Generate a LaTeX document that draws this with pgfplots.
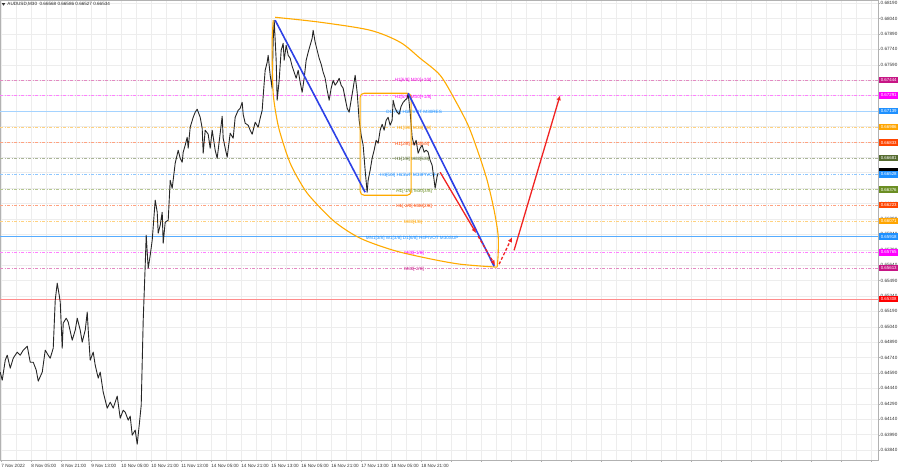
\documentclass[border=0pt]{standalone}
\usepackage{fontspec}
\setmainfont{Liberation Sans}
\usepackage{pgfplots}
\pgfplotsset{compat=1.18}
\usetikzlibrary{arrows.meta}

\definecolor{lvMvr}{RGB}{199,21,133}
\definecolor{lvMag}{RGB}{255,0,255}
\definecolor{lvBlue}{RGB}{30,144,255}
\definecolor{lvOrange}{RGB}{255,165,0}
\definecolor{lvRed}{RGB}{255,69,0}
\definecolor{lvOlive}{RGB}{85,107,47}
\definecolor{lvOlive2}{RGB}{107,142,35}
\definecolor{lvPure}{RGB}{255,0,0}
\definecolor{fanOrange}{RGB}{255,170,0}
\definecolor{trendBlue}{RGB}{45,65,230}
\definecolor{arrRed}{RGB}{240,35,35}

\tikzset{
  lvl/.style={line width=0.45pt, color=#1!50!white, dash pattern=on 3pt off 1.5pt on 1pt off 1.5pt},
  lvlsolid/.style={line width=0.6pt, color=#1},
  lbl/.style={font=\fontsize{4.6}{5}\selectfont, inner sep=0pt, anchor=center},
  pbox/.style={anchor=west, fill=#1, text=white, inner sep=0pt, minimum width=19pt,
    minimum height=6.5pt, font=\fontsize{4.4}{5}\selectfont},
}

\begin{document}
\begin{tikzpicture}[font=\fontsize{4.6}{5}\selectfont]
\begin{axis}[
  scale only axis, width=878pt, height=460pt,
  xmin=0, xmax=878, ymin=0.63742, ymax=0.68218,
  axis line style={gray!60, line width=0.5pt},
  xtick={1,31,...,871},
  xticklabels={7 Nov 2022, 8 Nov 05:00, 8 Nov 21:00, 9 Nov 13:00, 10 Nov 05:00,
    10 Nov 21:00, 11 Nov 13:00, 14 Nov 05:00, 14 Nov 21:00, 15 Nov 13:00,
    16 Nov 05:00, 16 Nov 21:00, 17 Nov 13:00, 18 Nov 05:00, 18 Nov 21:00,
    {},{},{},{},{},{},{},{},{},{},{},{},{},{},{}},
  minor x tick num=1,
  ytick={0.6384,0.6399,0.6414,0.6429,0.6444,0.6459,0.6474,0.6489,0.6504,0.6519,
    0.6534,0.6549,0.6564,0.6579,0.6594,0.6609,0.6624,0.6639,0.6654,0.6669,
    0.6684,0.6699,0.6714,0.6729,0.6744,0.6759,0.6774,0.6789,0.6804,0.6819},
  yticklabels={0.63840,0.63990,0.64140,0.64290,0.64440,0.64590,0.64740,0.64890,0.65040,0.65190,
    0.65340,0.65490,0.65640,0.65790,0.65940,0.66090,0.66240,{},{},{},
    {},{},{},{},{},0.67590,0.67740,0.67890,0.68040,0.68190},
  yticklabel pos=right,
  grid=both,
  major grid style={gray!14, line width=0.4pt},
  minor grid style={gray!14, line width=0.4pt},
  tick style={gray!60},
  major tick length=2pt, minor tick length=0pt,
  xtick pos=bottom, ytick pos=right,
  tick align=outside,
  xticklabel style={anchor=north west, inner sep=0pt, yshift=-1.5pt, text=black!80},
  yticklabel style={anchor=west, inner sep=0pt, xshift=0.5pt, text=black!80},
]

% level lines
\addplot[lvl=lvMvr] coordinates {(0,0.67444) (878,0.67444)};
\addplot[lvl=lvMag] coordinates {(0,0.67291) (878,0.67291)};
\addplot[lvlsolid=lvBlue!40] coordinates {(0,0.67139) (878,0.67139)};
\addplot[lvl=lvOrange] coordinates {(0,0.66986) (878,0.66986)};
\addplot[lvl=lvRed] coordinates {(0,0.66833) (878,0.66833)};
\addplot[lvl=lvOlive] coordinates {(0,0.66681) (878,0.66681)};
\addplot[lvl=lvBlue] coordinates {(0,0.66528) (878,0.66528)};
\addplot[lvl=lvOlive2] coordinates {(0,0.66376) (878,0.66376)};
\addplot[lvl=lvRed] coordinates {(0,0.66223) (878,0.66223)};
\addplot[lvl=lvOrange] coordinates {(0,0.66071) (878,0.66071)};
\addplot[lvlsolid=lvBlue!75] coordinates {(0,0.65918) (878,0.65918)};
\addplot[lvl=lvMag] coordinates {(0,0.65765) (878,0.65765)};
\addplot[lvl=lvMvr] coordinates {(0,0.65613) (878,0.65613)};
\addplot[lvlsolid=lvPure!45] coordinates {(0,0.65308) (878,0.65308)};

% level texts
\node[lbl, text=lvMag!80!lvMvr] at (axis cs:413,0.67444) [yshift=-1pt] {H1[6/8] M30[+2/8]};
\node[lbl, text=lvMag] at (axis cs:413,0.67291) [yshift=-1.5pt] {H1[5/8] M30[+1/8]};
\node[lbl, text=lvBlue] at (axis cs:414,0.67139) [yshift=-1.5pt] {D1[7/8] H1PIVOT M30RES};
\node[lbl, text=lvOrange] at (axis cs:414,0.66986) [yshift=-1.5pt] {H1[3/8] M30[7/8]};
\node[lbl, text=lvRed] at (axis cs:412,0.66833) [yshift=-1.5pt] {H1[2/8] M30[6/8]};
\node[lbl, text=lvOlive] at (axis cs:412,0.66681) [yshift=-1pt] {H1[1/8] M30[5/8]};
\node[lbl, text=lvBlue] at (axis cs:408,0.66528) [yshift=-1.5pt] {H4[5/8] H1SUP M30PIVOT};
\node[lbl, text=lvOlive2] at (axis cs:414,0.66376) [yshift=-1.5pt] {H1[-1/8] M30[3/8]};
\node[lbl, text=lvRed] at (axis cs:414,0.66223) [yshift=-1.5pt] {H1[-2/8] M30[2/8]};
\node[lbl, text=lvOrange] at (axis cs:413,0.66071) [yshift=-1.5pt] {M30[1/8]};
\node[lbl, text=lvBlue] at (axis cs:412,0.65918) [yshift=-2pt] {MN1[3/8] W1[3/8] D1[6/8] H4PIVOT M30SUP};
\node[lbl, text=lvMag] at (axis cs:414,0.65765) [yshift=-1.5pt] {M30[-1/8]};
\node[lbl, text=lvMvr] at (axis cs:414,0.65613) [yshift=-1.5pt] {M30[-2/8]};

% price
\addplot[black!85, line width=0.9pt, line join=round] coordinates {
(0,0.64598) (2,0.64520) (5,0.64715) (7,0.64763) (10,0.64637) (13,0.64734) (17,0.64793)
(20,0.64763) (23,0.64812) (27,0.64851) (30,0.64695) (33,0.64695) (36,0.64618) (38,0.64511)
(42,0.64598) (45,0.64812) (48,0.64763) (50,0.64734) (53,0.64832) (55,0.65299) (57,0.65464)
(59,0.65347) (60,0.65279) (62,0.64832) (63,0.65075) (66,0.65123) (68,0.65085) (72,0.64909)
(75,0.65007) (77,0.65123) (80,0.65007) (82,0.64890) (85,0.65007) (87,0.65182) (88,0.65007)
(90,0.64715) (93,0.64793) (95,0.64666) (98,0.64540) (100,0.64598) (103,0.64403) (105,0.64326)
(107,0.64248) (110,0.64306) (113,0.64248) (117,0.64365) (120,0.64150) (123,0.64228)
(125,0.64209) (128,0.64131) (130,0.64170) (132,0.63985) (135,0.64034) (137,0.63898)
(139,0.64082) (141,0.64277) (143,0.65104) (145,0.65639) (146,0.65931) (147,0.65766)
(148,0.65610) (150,0.65736) (152,0.65882) (155,0.66272) (157,0.66155) (158,0.65951)
(160,0.66028) (162,0.66155) (163,0.65853) (165,0.66058) (168,0.66077) (170,0.66466)
(172,0.66388) (175,0.66632) (178,0.66758) (180,0.66680) (182,0.66641) (183,0.66739)
(185,0.66807) (187,0.66885) (188,0.66778) (190,0.66982) (193,0.67079) (195,0.67128)
(197,0.67157) (200,0.67079) (202,0.66972) (203,0.66729) (205,0.66953) (208,0.66914)
(210,0.66778) (212,0.66953) (215,0.66758) (217,0.66680) (220,0.66924) (222,0.67089)
(223,0.66875) (225,0.66778) (227,0.66690) (230,0.66924) (233,0.66875) (235,0.67079)
(238,0.67147) (240,0.67167) (242,0.67225) (243,0.67108) (245,0.67021) (248,0.67001)
(250,0.66953) (252,0.66914) (255,0.67031) (258,0.66982) (260,0.67069) (262,0.67147)
(263,0.67284) (265,0.67537) (267,0.67614) (268,0.67682) (270,0.67488) (272,0.67361)
(273,0.67828) (274,0.68023) (276,0.67634) (277,0.67245) (279,0.67439) (281,0.67731)
(283,0.67799) (284,0.67634) (286,0.67780) (288,0.67682) (290,0.67653) (292,0.67575)
(294,0.67517) (296,0.67459) (298,0.67537) (300,0.67420) (302,0.67322) (304,0.67459)
(306,0.67634) (308,0.67712) (310,0.67780) (312,0.67848) (313,0.67926) (315,0.67809)
(317,0.67731) (319,0.67653) (321,0.67595) (323,0.67517) (325,0.67459) (327,0.67342)
(329,0.67245) (331,0.67361) (333,0.67439) (335,0.67391) (337,0.67420) (339,0.67459)
(341,0.67391) (343,0.67361) (345,0.67264) (347,0.67167) (349,0.67128) (351,0.67245)
(353,0.67361) (355,0.67488) (357,0.67322) (359,0.67050) (361,0.66904) (363,0.66807)
(365,0.66563) (367,0.66349) (368,0.66466) (370,0.66563) (372,0.66680) (374,0.66758)
(376,0.66855) (378,0.66826) (380,0.66953) (382,0.67011) (384,0.66953) (386,0.67050)
(388,0.67079) (390,0.67001) (392,0.67050) (393,0.67245) (395,0.67167) (397,0.67128)
(399,0.67108) (401,0.67186) (403,0.67225) (405,0.67245) (407,0.67264) (408,0.67313)
(410,0.67128) (412,0.66885) (414,0.66807) (416,0.66855) (418,0.66729) (420,0.66778)
(422,0.66807) (424,0.66739) (426,0.66758) (428,0.66739) (430,0.66661) (432,0.66612)
(434,0.66466) (435,0.66388) (437,0.66505) (438,0.66534)
};

% orange lens and box
\addplot[fanOrange, line width=1.1pt, smooth] coordinates {
(275,0.68052) (320,0.68004) (370,0.67926) (400,0.67809) (420,0.67653) (440,0.67488)
(455,0.67245) (468,0.67001) (478,0.66739) (487,0.66466) (494,0.66174) (498,0.65931)
(498,0.65736) (497,0.65620)
};
\addplot[fanOrange, line width=1.1pt, smooth] coordinates {
(273,0.68023) (272,0.67828) (272,0.67634) (273,0.67313) (276,0.67099) (280,0.66924)
(290,0.66632) (303,0.66398) (313,0.66272) (335,0.66058) (360,0.65902) (393,0.65785)
(427,0.65707) (460,0.65649) (497,0.65620)
};
\addplot[fanOrange, line width=1.1pt, rounded corners=4pt] coordinates {
(360,0.67313) (411,0.67313) (411,0.66320) (360,0.66320)} -- cycle;

% blue trend lines
\addplot[trendBlue, line width=1.6pt] coordinates {(275,0.68023) (365,0.66349)};
\addplot[trendBlue, line width=1.6pt] coordinates {(408,0.67313) (494,0.65629)};

% red projection arrows
\addplot[arrRed, line width=1.3pt, -{Latex[length=5pt,width=4.5pt]}]
  coordinates {(440,0.66544) (476,0.65951)};
\addplot[arrRed, line width=1.3pt, dash pattern=on 3pt off 2pt, -{Latex[length=5pt,width=4.5pt]}]
  coordinates {(478,0.65921) (495,0.65639)};
\addplot[arrRed, line width=1.3pt, dash pattern=on 3pt off 2pt, -{Latex[length=5pt,width=4.5pt]}]
  coordinates {(499,0.65649) (512,0.65912)};
\addplot[arrRed, line width=1.3pt, -{Latex[length=5pt,width=4.5pt]}]
  coordinates {(514,0.65785) (560,0.67293)};

% anchors for price boxes
\coordinate (b1) at (axis cs:878,0.67444);
\coordinate (b2) at (axis cs:878,0.67291);
\coordinate (b3) at (axis cs:878,0.67139);
\coordinate (b4) at (axis cs:878,0.66986);
\coordinate (b5) at (axis cs:878,0.66833);
\coordinate (b6) at (axis cs:878,0.66681);
\coordinate (b7) at (axis cs:878,0.66528);
\coordinate (b8) at (axis cs:878,0.66376);
\coordinate (b9) at (axis cs:878,0.66223);
\coordinate (b10) at (axis cs:878,0.66071);
\coordinate (b11) at (axis cs:878,0.65918);
\coordinate (b12) at (axis cs:878,0.65765);
\coordinate (b13) at (axis cs:878,0.65613);
\coordinate (b14) at (axis cs:878,0.65308);
\coordinate (bc) at (axis cs:878,0.66534);
\end{axis}

% title
\fill[black!80] ([xshift=1.5pt,yshift=-3pt]current axis.north west) -- ++(3.5pt,0) -- ++(-1.75pt,-2.5pt) -- cycle;
\node[anchor=west, inner sep=0pt, text=black!85] at ([xshift=7pt,yshift=-4.3pt]current axis.north west)
  {AUDUSD,M30\ \ 0.66568 0.66586 0.66527 0.66534};

% price boxes on the right scale
\node[pbox=lvMvr] at ([xshift=1pt]b1) {0.67444};
\node[pbox=lvMag] at ([xshift=1pt]b2) {0.67291};
\node[pbox=lvBlue] at ([xshift=1pt]b3) {0.67139};
\node[pbox=lvOrange] at ([xshift=1pt]b4) {0.66986};
\node[pbox=lvRed] at ([xshift=1pt]b5) {0.66833};
\node[pbox=lvOlive] at ([xshift=1pt]b6) {0.66681};
\node[pbox=black, minimum height=4pt] at ([xshift=1pt,yshift=3pt]bc) {};
\node[pbox=lvBlue] at ([xshift=1pt,yshift=-0.5pt]b7) {0.66528};
\node[pbox=lvOlive2] at ([xshift=1pt]b8) {0.66376};
\node[pbox=lvRed] at ([xshift=1pt]b9) {0.66223};
\node[pbox=lvOrange] at ([xshift=1pt]b10) {0.66071};
\node[pbox=lvBlue] at ([xshift=1pt]b11) {0.65918};
\node[pbox=lvMag] at ([xshift=1pt]b12) {0.65765};
\node[pbox=lvMvr] at ([xshift=1pt]b13) {0.65613};
\node[pbox=lvPure] at ([xshift=1pt]b14) {0.65308};

\path ([yshift=-8pt]current axis.south west) rectangle ++(900pt,468pt);
\end{tikzpicture}
\end{document}
